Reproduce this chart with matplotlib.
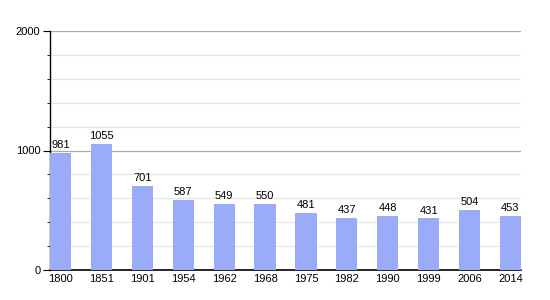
import matplotlib
matplotlib.use("Agg")
import matplotlib.pyplot as plt
from matplotlib.ticker import MultipleLocator

years = ["1800", "1851", "1901", "1954", "1962", "1968", "1975", "1982", "1990", "1999", "2006", "2014"]
population = [981, 1055, 701, 587, 549, 550, 481, 437, 448, 431, 504, 453]

plt.rcParams["font.family"] = ["Liberation Sans", "DejaVu Sans"]

fig = plt.figure(figsize=(5.5, 3), dpi=100)
ax = fig.add_axes([50 / 550, 30 / 300, 471 / 550, 239 / 300])

x = list(range(len(years)))
bw = 0.52
ax.bar(x, population, width=bw, color="#9aabf8", zorder=3)
for xi, v in zip(x, population):
    ax.text(xi, v + 25, str(v), ha="center", va="bottom", fontsize=8, zorder=4)

ax.set_xlim(-bw / 2, len(years) - 1 + bw / 2)
ax.set_ylim(0, 2000)
ax.set_xticks(x)
ax.set_xticklabels(years)
ax.yaxis.set_major_locator(MultipleLocator(1000))
ax.yaxis.set_minor_locator(MultipleLocator(200))
ax.grid(which="major", axis="y", color="#aaaaaa", linewidth=0.9, zorder=1)
ax.grid(which="minor", axis="y", color="#e6e6e6", linewidth=0.9, zorder=1)
ax.tick_params(axis="x", length=0, labelsize=8, pad=3)
ax.tick_params(axis="y", which="major", length=5, labelsize=8, pad=2)
ax.tick_params(axis="y", which="minor", length=2.5)
for s in ["top", "right"]:
    ax.spines[s].set_visible(False)
ax.spines["left"].set_linewidth(1)
ax.spines["bottom"].set_linewidth(1.2)

fig.savefig("out.png", dpi=100)
